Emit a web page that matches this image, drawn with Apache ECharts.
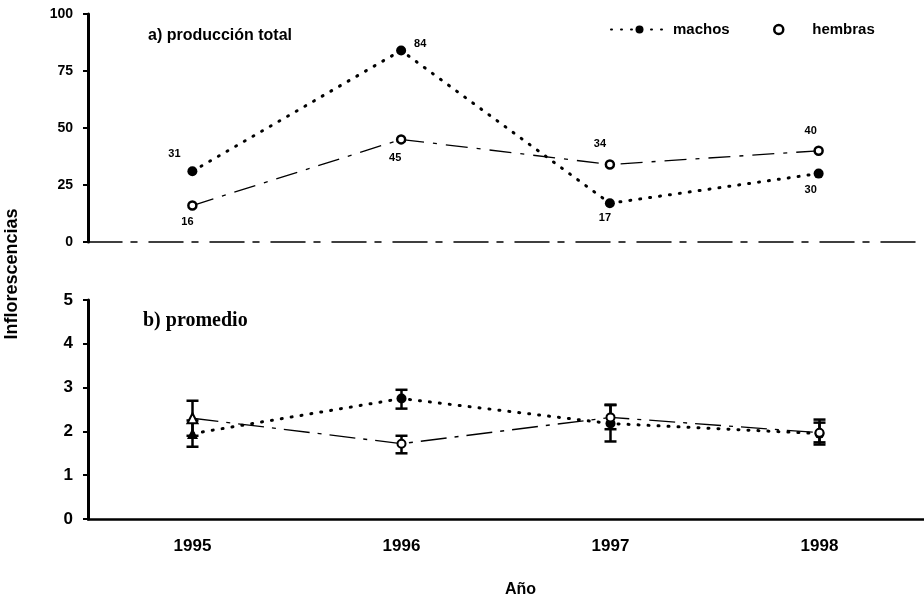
<!DOCTYPE html>
<html>
<head>
<meta charset="utf-8">
<script src="https://cdn.jsdelivr.net/npm/echarts@6/dist/echarts.min.js"></script>
<style>
  html, body { margin: 0; padding: 0; background: #fff; }
  #chart { width: 924px; height: 602px; }
</style>
</head>
<body>
<div id="chart"></div>
<script>
// Categories (years)
const years = ['1995', '1996', '1997', '1998'];

// a) total inflorescence production
const machosTotal = [31, 84, 17, 30];
const hembrasTotal = [16, 45, 34, 40];

// b) mean per plant, with error bar limits
const machosMean = [1.95, 2.75, 2.18, 1.95];
const machosLow = [1.65, 2.52, 1.77, 1.70];
const machosHigh = [2.25, 2.95, 2.60, 2.20];
const hembrasMean = [2.30, 1.72, 2.32, 1.97];
const hembrasLow = [1.90, 1.50, 2.05, 1.75];
const hembrasHigh = [2.70, 1.90, 2.61, 2.27];

// Axis ticks
const totalTicks = [0, 25, 50, 75, 100];
const meanTicks = [0, 1, 2, 3, 4, 5];

// label offsets for the value tags in panel a)
const machosLabelOffset = [[-18, -17], [19, -7], [-5, 15], [-8, 16]];
const hembrasLabelOffset = [[-5, 16], [-6, 19], [-10, -21], [-8, -20]];

const FONT = 'Liberation Sans, Arial, sans-serif';
const INK = '#000';

const chart = echarts.init(document.getElementById('chart'));

function errorBars(low, high, gridIdx) {
  return {
    type: 'custom',
    xAxisIndex: gridIdx, yAxisIndex: gridIdx,
    silent: true, z: 5,
    data: years.map((y, i) => [i, low[i], high[i]]),
    renderItem: function (params, api) {
      const lo = api.coord([api.value(0), api.value(1)]);
      const hi = api.coord([api.value(0), api.value(2)]);
      const hw = 6;
      const st = { stroke: INK, lineWidth: 2.5 };
      return {
        type: 'group',
        children: [
          { type: 'line', shape: { x1: lo[0], y1: lo[1], x2: hi[0], y2: hi[1] }, style: st },
          { type: 'line', shape: { x1: lo[0] - hw, y1: lo[1], x2: lo[0] + hw, y2: lo[1] }, style: st },
          { type: 'line', shape: { x1: hi[0] - hw, y1: hi[1], x2: hi[0] + hw, y2: hi[1] }, style: st }
        ]
      };
    }
  };
}

const dottedStyle = { color: INK, width: 3, type: [1, 9], cap: 'round' };
const dashStyle = { color: INK, width: 1.3, type: [22, 9, 4, 9] };
const legendText = { fontFamily: FONT, fontSize: 15, fontWeight: 'bold', color: INK };

const option = {
  backgroundColor: '#fff',
  animation: false,
  textStyle: { fontFamily: FONT, color: INK },
  legend: [
    {
      top: 17, left: 605, itemWidth: 57, itemHeight: 10,
      textStyle: legendText,
      data: [{ name: 'machos' }]
    },
    {
      top: 17, left: 768, itemWidth: 9, itemHeight: 9,
      textStyle: Object.assign({ padding: [0, 0, 0, 24] }, legendText),
      data: [{ name: 'hembras', icon: 'circle', itemStyle: { color: '#fff', borderColor: INK, borderWidth: 2.5 } }]
    }
  ],
  grid: [
    { left: 88, top: 14, width: 835, height: 228 },
    { left: 88, top: 300, width: 836, height: 219 }
  ],
  xAxis: [
    {
      type: 'category', data: years, gridIndex: 0, boundaryGap: true,
      axisLine: { lineStyle: { color: INK, width: 1.5, type: [34, 9, 6, 12] } },
      axisTick: { length: 6, lineStyle: { color: INK, width: 2, type: 'solid' } },
      axisLabel: { show: false }
    },
    {
      type: 'category', data: years, gridIndex: 1, boundaryGap: true,
      axisLine: { lineStyle: { color: INK, width: 2.5 } },
      axisTick: { length: 5, lineStyle: { color: INK, width: 2 } },
      axisLabel: { fontFamily: FONT, fontSize: 17, fontWeight: 'bold', color: INK, margin: 19 }
    },
    {
      // inward half of the cross marks on the top axis
      type: 'category', data: years, gridIndex: 0, position: 'bottom',
      axisLine: { show: false },
      axisTick: { inside: true, length: 6, lineStyle: { color: INK, width: 2, type: 'solid' } },
      axisLabel: { show: false }
    }
  ],
  yAxis: [
    {
      type: 'value', gridIndex: 0, min: totalTicks[0], max: totalTicks[totalTicks.length - 1], interval: 25,
      axisLine: { show: true, lineStyle: { color: INK, width: 3 } },
      axisTick: { show: true, length: 5, lineStyle: { color: INK, width: 2 } },
      axisLabel: { fontFamily: FONT, fontSize: 14, fontWeight: 'bold', color: INK, margin: 15 },
      splitLine: { show: false }
    },
    {
      type: 'value', gridIndex: 1, min: meanTicks[0], max: meanTicks[meanTicks.length - 1], interval: 1,
      axisLine: { show: true, lineStyle: { color: INK, width: 3 } },
      axisTick: { show: true, length: 5, lineStyle: { color: INK, width: 2 } },
      axisLabel: { fontFamily: FONT, fontSize: 17, fontWeight: 'bold', color: INK, margin: 15 },
      splitLine: { show: false }
    }
  ],
  series: [
    {
      name: 'machos', type: 'line', xAxisIndex: 0, yAxisIndex: 0,
      data: machosTotal.map((v, i) => ({
        value: v,
        label: { offset: machosLabelOffset[i] }
      })),
      symbol: 'circle', symbolSize: 10,
      itemStyle: { color: INK },
      lineStyle: dottedStyle,
      label: { show: true, position: 'inside', fontFamily: FONT, fontSize: 11, fontWeight: 'bold', color: INK },
      z: 3
    },
    {
      name: 'hembras', type: 'line', xAxisIndex: 0, yAxisIndex: 0,
      data: hembrasTotal.map((v, i) => ({
        value: v,
        label: { offset: hembrasLabelOffset[i] }
      })),
      symbol: 'circle', symbolSize: 8,
      itemStyle: { color: '#fff', borderColor: INK, borderWidth: 2.5 },
      lineStyle: dashStyle,
      label: { show: true, position: 'inside', fontFamily: FONT, fontSize: 11, fontWeight: 'bold', color: INK },
      z: 3
    },
    errorBars(hembrasLow, hembrasHigh, 1),
    errorBars(machosLow, machosHigh, 1),
    {
      name: 'machos', type: 'line', xAxisIndex: 1, yAxisIndex: 1,
      data: machosMean.map((v, i) => ({
        value: v,
        symbol: i === 0 ? 'triangle' : 'circle',
        symbolSize: i === 0 ? 11 : 10
      })),
      itemStyle: { color: INK },
      lineStyle: dottedStyle,
      z: 6
    },
    {
      name: 'hembras', type: 'line', xAxisIndex: 1, yAxisIndex: 1,
      data: hembrasMean.map((v, i) => ({
        value: v,
        symbol: i === 0 ? 'triangle' : 'circle',
        symbolSize: i === 0 ? 10 : 8
      })),
      itemStyle: { color: '#fff', borderColor: INK, borderWidth: 2 },
      lineStyle: { color: INK, width: 1.3, type: [26, 8, 4, 8] },
      z: 7
    }
  ],
  graphic: [
    { type: 'text', left: 148, top: 28, style: { text: 'a) producción total', font: 'bold 16px ' + FONT, fill: INK } },
    { type: 'text', left: 143, top: 311, style: { text: 'b) promedio', font: 'bold 20px Liberation Serif, Times New Roman, serif', fill: INK } },
    { type: 'text', x: 12, y: 274, rotation: Math.PI / 2, style: { text: 'Inflorescencias', font: 'bold 18px ' + FONT, fill: INK, align: 'center', verticalAlign: 'middle' } },
    { type: 'text', left: 505, top: 582, style: { text: 'Año', font: 'bold 16px ' + FONT, fill: INK } }
  ]
};

chart.setOption(option);
</script>
</body>
</html>
